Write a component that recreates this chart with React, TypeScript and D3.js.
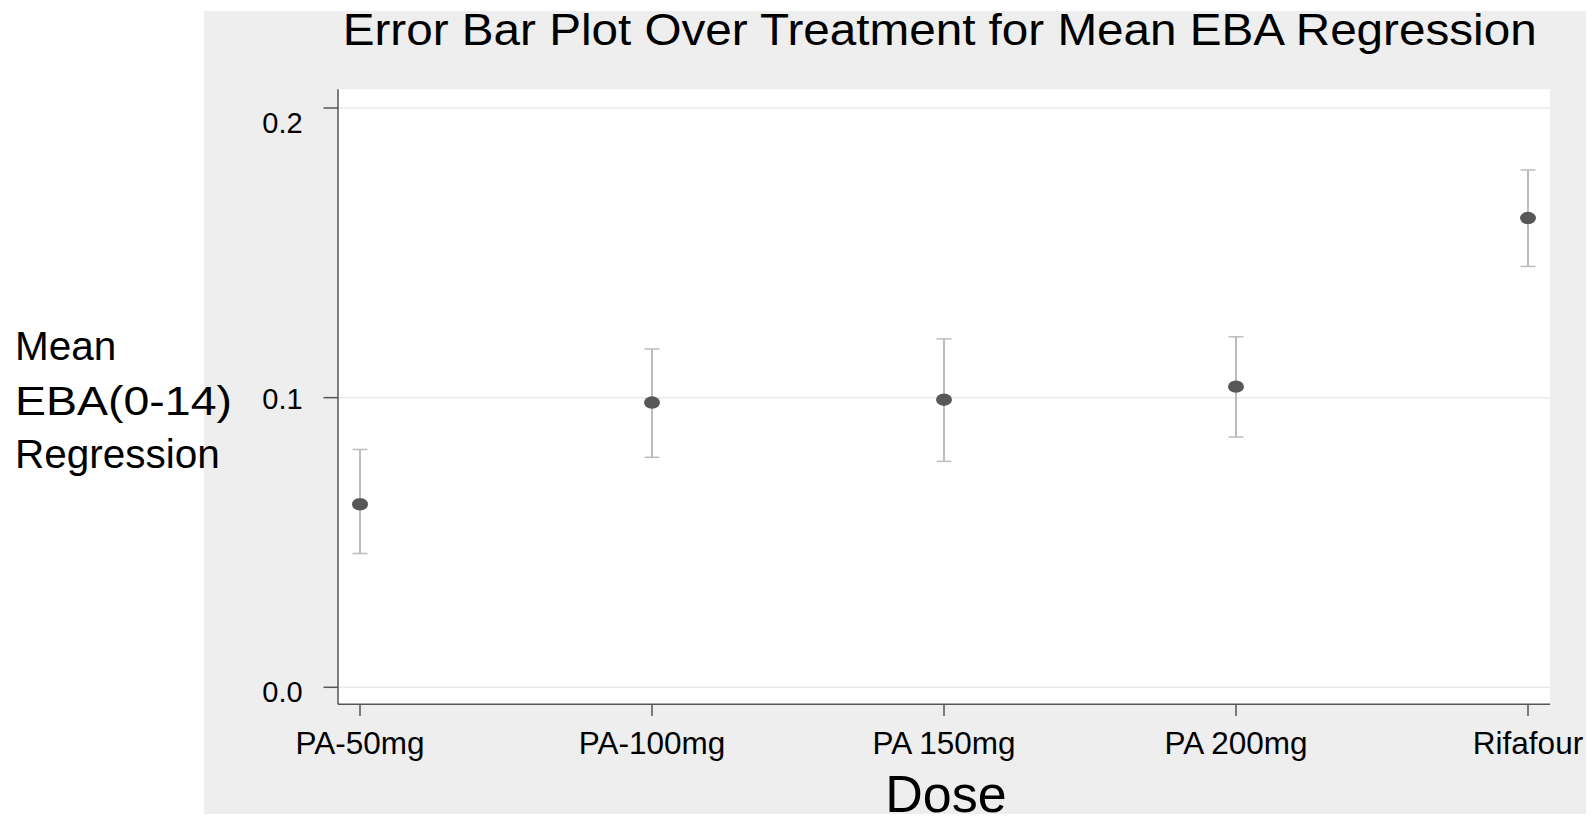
import React from "react";
import * as d3 from "d3";

const categories = ["PA-50mg", "PA-100mg", "PA 150mg", "PA 200mg", "Rifafour"];
const means = [0.0632, 0.0983, 0.0993, 0.1038, 0.162];
const upper = [0.0821, 0.1168, 0.1203, 0.121, 0.1786];
const lower = [0.0462, 0.0794, 0.078, 0.0864, 0.1453];
const yTicks = [0.0, 0.1, 0.2];
const titleText = "Error Bar Plot Over Treatment for Mean EBA Regression";
const xTitle = "Dose";
const yTitleLines = ["Mean", "EBA(0-14)", "Regression"];

const W = 1592;
const H = 824;
const FONT = "'Liberation Sans', Arial, Helvetica, sans-serif";

export default function App() {
  const plot = { left: 338, right: 1550, top: 89.3, bottom: 704.3 };
  const x = d3.scalePoint<string>().domain(categories).range([360, 1528]);
  const y = d3.scaleLinear().domain([0, 0.2]).range([687.3, 108]);
  const labelDy: Record<string, number> = { "0.0": 5, "0.1": 1, "0.2": 14.5 };
  const fmt = d3.format(".1f");

  return (
    <svg
      width={W}
      height={H}
      style={{ position: "absolute", left: 0, top: 0, display: "block" }}
      fontFamily={FONT}
    >
      <rect x={0} y={0} width={W} height={H} fill="#ffffff" />
      <rect x={204} y={11} width={1586 - 204} height={814 - 11} fill="#eeeeee" />
      <rect
        x={plot.left}
        y={plot.top}
        width={plot.right - plot.left}
        height={plot.bottom - plot.top}
        fill="#ffffff"
      />
      {yTicks.map((t) => (
        <line
          key={"g" + t}
          x1={plot.left}
          x2={plot.right}
          y1={y(t)}
          y2={y(t)}
          stroke="#e9e9e9"
          strokeWidth={1.5}
        />
      ))}
      <line x1={plot.left} x2={plot.left} y1={plot.top} y2={plot.bottom} stroke="#555" strokeWidth={1.5} />
      <line x1={plot.left} x2={plot.right} y1={plot.bottom} y2={plot.bottom} stroke="#555" strokeWidth={1.5} />
      {yTicks.map((t) => {
        const s = fmt(t);
        return (
          <g key={"yt" + t}>
            <line x1={323.5} x2={plot.left} y1={y(t)} y2={y(t)} stroke="#555" strokeWidth={1.5} />
            <text
              x={302.7}
              y={y(t) + (labelDy[s] || 0)}
              textAnchor="end"
              dominantBaseline="central"
              fontSize={29}
              fill="#000"
            >
              {s}
            </text>
          </g>
        );
      })}
      {categories.map((c) => (
        <g key={"xt" + c}>
          <line x1={x(c)} x2={x(c)} y1={plot.bottom} y2={716} stroke="#555" strokeWidth={1.5} />
          <text x={x(c)} y={754} textAnchor="middle" fontSize={31.5} fill="#000">
            {c}
          </text>
        </g>
      ))}
      {categories.map((c, i) => {
        const cx = x(c) as number;
        return (
          <g key={"eb" + c}>
            <line x1={cx} x2={cx} y1={y(upper[i])} y2={y(lower[i])} stroke="#bcbcbc" strokeWidth={2} />
            <line x1={cx - 7.5} x2={cx + 7.5} y1={y(upper[i])} y2={y(upper[i])} stroke="#bcbcbc" strokeWidth={1.5} />
            <line x1={cx - 7.5} x2={cx + 7.5} y1={y(lower[i])} y2={y(lower[i])} stroke="#bcbcbc" strokeWidth={1.5} />
            <ellipse cx={cx} cy={y(means[i])} rx={8} ry={6.2} fill="#575757" />
          </g>
        );
      })}
      <text
        x={342.7}
        y={45}
        fontSize={44}
        fill="#000"
        textLength={1194}
        lengthAdjust="spacingAndGlyphs"
      >
        {titleText}
      </text>
      <text x={946} y={812} textAnchor="middle" fontSize={52} fill="#000">
        {xTitle}
      </text>
      <text x={15} y={360} fontSize={40.5} fill="#000">
        {yTitleLines[0]}
      </text>
      <text x={15} y={415} fontSize={40.5} fill="#000" textLength={217} lengthAdjust="spacingAndGlyphs">
        {yTitleLines[1]}
      </text>
      <text x={15} y={468} fontSize={40.5} fill="#000">
        {yTitleLines[2]}
      </text>
    </svg>
  );
}
